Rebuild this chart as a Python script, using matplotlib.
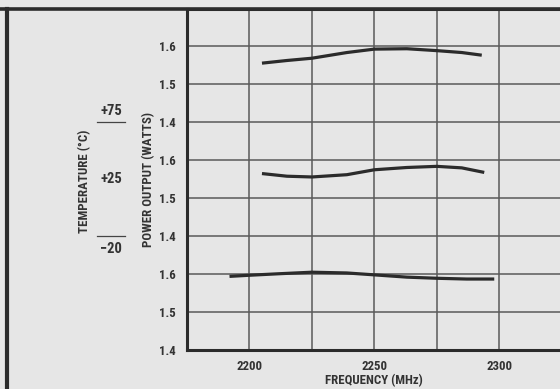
import matplotlib
matplotlib.use("Agg")
import matplotlib.pyplot as plt
from matplotlib import font_manager
from matplotlib.lines import Line2D
from matplotlib.transforms import blended_transform_factory

#-- Data ---

freq_m20 = [2192, 2200, 2212, 2225, 2239, 2250, 2263, 2275, 2287, 2298]
watts_m20 = [1.594, 1.597, 1.601, 1.605, 1.603, 1.598, 1.592, 1.589, 1.587, 1.587]

freq_p25 = [2205, 2215, 2225, 2239, 2250, 2263, 2275, 2285, 2294]
watts_p25 = [1.565, 1.558, 1.556, 1.562, 1.575, 1.581, 1.584, 1.580, 1.568]

freq_p75 = [2205, 2215, 2225, 2239, 2250, 2263, 2275, 2285, 2293]
watts_p75 = [1.556, 1.563, 1.569, 1.584, 1.593, 1.594, 1.589, 1.584, 1.577]

temp_labels = ["\u221220", "+25", "+75"]
y_tick_labels = ["1.4", "1.5", "1.6"] * 3
x_major = [2200, 2250, 2300]
x_minor = [2225, 2275]

#-- Style ---

BG = "#e6e6e6"
INK = "#2b2b2b"
TXT = "#333333"
GRID = "#5a5a5a"
FS = 9.3

# each temperature panel spans 0.3 W (1.4 .. 1.7) stacked on one axis
PANEL_BASE = 1.4
PANEL_OFFSETS = [0, 3, 6]


def pick_font():
    """Prefer a narrow face, the scan uses a condensed gothic."""
    names = {f.name for f in font_manager.fontManager.ttflist}
    for name in ("Liberation Sans Narrow", "Roboto Condensed",
                 "Open Sans Condensed", "DejaVu Sans"):
        if name in names:
            return name
    return "DejaVu Sans"


def to_panel(values, offset):
    return [offset + (v - PANEL_BASE) * 10 for v in values]


def main():
    plt.rcParams["font.family"] = [pick_font(), "DejaVu Sans"]
    plt.rcParams["font.stretch"] = "condensed"
    plt.rcParams["font.weight"] = "bold"
    plt.rcParams["axes.labelweight"] = "bold"

    fig = plt.figure(figsize=(5.6, 3.89), dpi=100, facecolor=BG)
    ax = fig.add_axes([0.334, 0.1003, 0.669, 0.8778])
    ax.set_facecolor(BG)

    curves = [(freq_m20, watts_m20), (freq_p25, watts_p25), (freq_p75, watts_p75)]
    for (f, w), off in zip(curves, PANEL_OFFSETS):
        ax.plot(f, to_panel(w, off), color=INK, lw=2.3,
                solid_capstyle="butt", solid_joinstyle="round", zorder=3)

    ax.set_xlim(2175, 2325)
    ax.set_ylim(0, 9)
    ax.set_xticks(x_major)
    ax.set_xticks(x_minor, minor=True)
    ax.set_yticks(range(9), y_tick_labels)
    ax.tick_params(axis="both", which="both", length=0, colors=TXT,
                   labelsize=FS)
    ax.tick_params(axis="y", pad=8)
    ax.tick_params(axis="x", pad=7)
    ax.grid(True, which="both", color=GRID, lw=1.1)
    ax.set_axisbelow(True)
    for s in ax.spines.values():
        s.set_color(INK)
        s.set_linewidth(2.2)

    ax.set_xlabel("FREQUENCY (MHz)", fontsize=FS, color=TXT, labelpad=1)
    ax.set_ylabel("POWER OUTPUT (WATTS)", fontsize=FS, color=TXT,
                  labelpad=3)

    # temperature legend to the left
    tr = blended_transform_factory(fig.transFigure, ax.transData)
    tx = 111 / 560
    fig.text(84.5 / 560, 1 - 181 / 389, "TEMPERATURE (\u00b0C)", rotation=90,
             ha="center", va="center", fontsize=FS, color=TXT)
    ax.text(tx, 3 - 0.15, temp_labels[0], transform=tr, ha="center",
            va="top", fontsize=10.5, color=TXT)
    ax.text(tx, 4.5, temp_labels[1], transform=tr, ha="center", va="center",
            fontsize=10.5, color=TXT)
    ax.text(tx, 6 + 0.12, temp_labels[2], transform=tr, ha="center",
            va="bottom", fontsize=10.5, color=TXT)
    for y in (3, 6):
        ax.add_line(Line2D([97 / 560, 125 / 560], [y, y], transform=tr,
                           color="#444444", lw=0.9, clip_on=False))

    # outer frame of the scanned page
    fig.add_artist(Line2D([0, 1], [1 - 8.5 / 389] * 2, color=INK, lw=2.6))
    fig.add_artist(Line2D([6.5 / 560] * 2, [0, 1 - 8.5 / 389], color=INK,
                          lw=3.0))

    fig.savefig("out.png", dpi=100, facecolor=BG)


if __name__ == "__main__":
    main()
